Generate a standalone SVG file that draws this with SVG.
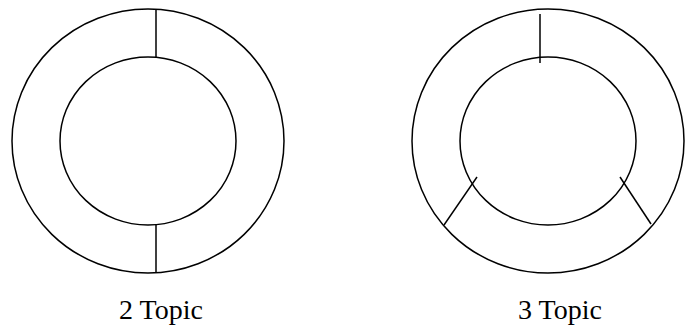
<svg xmlns="http://www.w3.org/2000/svg" width="690" height="326" viewBox="0 0 690 326">
<style>
.s{fill:none;stroke:#000;stroke-width:1.5}
.t{font-family:"Liberation Serif","Times New Roman",serif;font-size:28px;fill:#000;text-anchor:middle}
</style>
<rect width="690" height="326" fill="#fff"/>
<g id="two-topic">
<ellipse class="s" cx="148" cy="141" rx="136" ry="132"/>
<ellipse class="s" cx="148" cy="141" rx="88" ry="84"/>
<line class="s" x1="156" y1="9" x2="156" y2="57.5"/>
<line class="s" x1="156" y1="224.5" x2="156" y2="273"/>
<text class="t" x="161" y="319">2 Topic</text>
</g>
<g id="three-topic">
<ellipse class="s" cx="548" cy="141" rx="136" ry="132"/>
<ellipse class="s" cx="548" cy="141" rx="88" ry="84"/>
<line class="s" x1="540" y1="14" x2="540" y2="63"/>
<line class="s" x1="444" y1="225" x2="477" y2="177"/>
<line class="s" x1="620" y1="177" x2="651" y2="224"/>
<text class="t" x="560" y="319">3 Topic</text>
</g>
</svg>
